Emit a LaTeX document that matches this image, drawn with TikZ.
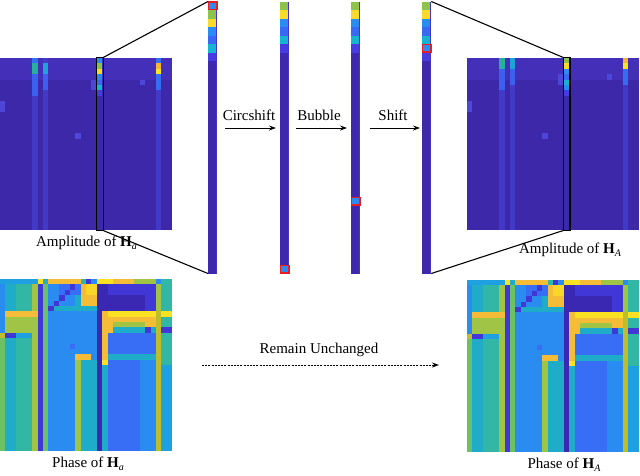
\documentclass[tikz,border=0pt]{standalone}
\usepackage{fontspec}
\setmainfont{Liberation Serif}
\usetikzlibrary{arrows.meta}
% amplitude colours
\definecolor{ampbg}{RGB}{62,40,170}
\definecolor{ampbgl}{RGB}{67,47,184}
\definecolor{ampstripe}{RGB}{66,58,198}
\definecolor{ampblueA}{RGB}{55,110,240}
\definecolor{ampteal}{RGB}{40,175,160}
\definecolor{ampblueB}{RGB}{60,95,238}
\definecolor{ampcyan}{RGB}{30,165,215}
\definecolor{amporange}{RGB}{245,180,55}
\definecolor{ampyellow}{RGB}{250,228,30}
\definecolor{ampfaint}{RGB}{78,70,215}
% column colours
\definecolor{cgreen}{RGB}{140,195,75}
\definecolor{cyellow}{RGB}{250,220,40}
\definecolor{cblue}{RGB}{40,140,240}
\definecolor{cblueB}{RGB}{55,105,245}
\definecolor{ccyan}{RGB}{20,180,210}
\definecolor{cindigo}{RGB}{70,60,225}
\definecolor{cdark}{RGB}{62,40,172}
\definecolor{redbox}{RGB}{230,30,35}
% phase colours
\definecolor{pblue}{RGB}{42,140,240}
\definecolor{pcyan}{RGB}{30,172,200}
\definecolor{pteal}{RGB}{50,182,165}
\definecolor{pgreen}{RGB}{110,192,100}
\definecolor{pygreen}{RGB}{160,196,70}
\definecolor{pyellow}{RGB}{250,226,35}
\definecolor{porange}{RGB}{245,188,55}
\definecolor{pindigo}{RGB}{65,55,215}
\definecolor{pdark}{RGB}{58,40,178}
\definecolor{pblueB}{RGB}{55,110,245}
\definecolor{psky}{RGB}{30,160,225}
\definecolor{polive}{RGB}{190,190,45}

\newcommand\subit[1]{\raisebox{-0.45ex}{\fontsize{10}{10}\selectfont\textit{#1}}}

\newcommand\ampmat[1]{%
 \fill[ampbg] (0,0) rectangle (32,32);
 \fill[ampbgl] (0,0) rectangle (32,4);
 \fill[ampstripe] (6,0) rectangle (7,32);
 \fill[ampstripe] (8,0) rectangle (9,32);
 \fill[ampstripe] (29,0) rectangle (30,32);
 \fill[ampblueA] (6,#1) rectangle (7,#1+1);
 \fill[ampteal] (6,#1+1) rectangle (7,#1+3);
 \fill[ampblueB] (6,#1+3) rectangle (7,#1+7);
 \fill[ampcyan] (8,#1+1) rectangle (9,#1+3);
 \fill[ampblueB] (8,#1+3) rectangle (9,#1+6);
 \fill[ampblueA] (29,#1) rectangle (30,#1+1);
 \fill[amporange] (29,#1+1) rectangle (30,#1+2);
 \fill[ampyellow] (29,#1+2) rectangle (30,#1+3);
 \fill[ampblueA] (29,#1+3) rectangle (30,#1+6);
 \fill[ampfaint] (17,#1+4) rectangle (18,#1+6);
 \fill[ampfaint] (26,#1+4) rectangle (27,#1+5);
 \fill[ampfaint] (14,14) rectangle (15,15);
 \fill[ampfaint] (0,8) rectangle (1,10);
}

\newcommand\phasemat{%
 \fill[pblue] (0,0) rectangle (32,32);
 % left region
 \fill[pcyan] (0,1) rectangle (7,32);
 \fill[pteal] (3,1) rectangle (6,32);
 \fill[pygreen] (6,1) rectangle (7,32);
 \fill[psky] (0,0) rectangle (7,1);
 \fill[pblue] (0,1) rectangle (1,10);
 \fill[porange] (1,6) rectangle (7,7);
 \fill[pygreen] (1,7) rectangle (7,10);
 \fill[polive] (0,10) rectangle (1,11);
 \fill[pgreen] (0,11) rectangle (1,32);
 \fill[pindigo] (1,10) rectangle (3,11);
 \fill[psky] (3,10) rectangle (6,11);
 % col 7, 8
 \fill[pindigo] (7,1) rectangle (8,32);
 \fill[pyellow] (7,0) rectangle (8,1);
 \fill[pgreen] (8,1) rectangle (9,32);
 \fill[pcyan] (8,0) rectangle (9,1);
 % cols 9-17
 \fill[porange] (9,0) rectangle (15,1);
 \fill[pteal] (15,0) rectangle (16,1);
 \fill[pindigo] (16,0) rectangle (17,1);
 \fill[pblueB] (11,1) rectangle (15,3);
 \foreach \i in {0,...,4} \fill[pindigo] (13-\i,1+\i) rectangle ++(1,1);
 \fill[porange] (15,1) rectangle (18,5);
 \fill[pyellow!70!porange] (16,1) rectangle (18,3);
 \fill[pcyan] (14,3) rectangle (15,5);
 \fill[pcyan] (10,5) rectangle (18,6);
 \fill[pblueB] (13,12) rectangle (14,13);
 \fill[pygreen] (14,14) rectangle (15,32);
 \fill[porange] (14,14) rectangle (17,15);
 \fill[pcyan] (15,15) rectangle (18,32);
 % col 18, 19
 \fill[pdark] (18,1) rectangle (19,32);
 \fill[pyellow] (18,0) rectangle (19,1);
 \fill[pyellow] (19,0) rectangle (20,1);
 \fill[pdark] (19,1) rectangle (20,6);
 \fill[porange] (19,6) rectangle (20,15);
 \fill[pyellow] (19,15) rectangle (20,16);
 \fill[pcyan] (19,16) rectangle (20,32);
 % cols 20-28
 \fill[porange] (20,0) rectangle (25,1);
 \fill[pyellow] (20,0) rectangle (21,1);
 \fill[pygreen] (25,0) rectangle (29,1);
 \fill[pindigo] (20,1) rectangle (29,6);
 \fill[pdark] (20,3) rectangle (27,6);
 \fill[pyellow] (20,6) rectangle (29,7);
 \fill[porange] (20,7) rectangle (29,8);
 \fill[pygreen] (21,8) rectangle (27,9);
 \fill[porange] (20,8) rectangle (21,10);
 \fill[porange] (27,8) rectangle (29,9);
 \fill[pcyan] (21,9) rectangle (29,10);
 \fill[pindigo] (27,9) rectangle (28,10);
 \fill[pblueB] (20,10) rectangle (29,14);
 \fill[pcyan] (20,14) rectangle (29,15);
 \fill[pblueB] (20,15) rectangle (29,32);
 \fill[pblue] (26,15) rectangle (29,32);
 % col 29-31
 \fill[pblue] (29,0) rectangle (30,1);
 \fill[polive] (29,1) rectangle (30,32);
 \fill[pygreen] (29,1) rectangle (30,6);
 \fill[pteal] (30,0) rectangle (32,16);
 \fill[pyellow] (30,6) rectangle (32,7);
 \fill[pindigo] (30,9) rectangle (32,10);
 \fill[psky] (30,16) rectangle (32,32);
}

% zoomed column: #1 x position, #2 colours of the top cells
\newcommand\zcol[2]{%
 \begin{scope}[xshift=#1pt,yshift=-1.5pt,x=9.3pt,y=-8.5pt]
  \fill[cdark] (0,0) rectangle (1,32);
  \foreach \c [count=\r from 0] in {#2} {\fill[\c] (0,\r) rectangle ++(1,1);}
  \fill[cindigo!60!cdark] (0.88,0) rectangle (1,32);
 \end{scope}}

\begin{document}
\begin{tikzpicture}[x=1pt,y=-1pt,
  lbl/.style={font=\fontsize{15}{18}\selectfont, inner sep=0pt},
  hlbox/.style={draw=black, line width=1.3pt, inner sep=0pt, outer sep=0pt,
                minimum width=6.6pt, minimum height=173pt},
  colnode/.style={inner sep=0pt, outer sep=0pt, minimum width=9.3pt, minimum height=272pt},
  link/.style={line width=1.1pt},
  arr/.style={line width=1pt, -{Stealth[length=7pt,width=5pt]}},
  darr/.style={line width=1pt, dash pattern=on 2pt off 1.2pt, -{Stealth[length=7pt,width=5pt]}},
  rbox/.style={draw=redbox, line width=1.3pt}]
\fill[white] (0,0) rectangle (640,475);
\useasboundingbox (0,0) rectangle (640,475);

% amplitude matrices
\begin{scope}[yshift=-58pt,x=5.375pt,y=-5.375pt]
 \ampmat{0}
 \foreach \c [count=\r from 0] in {cblue,cgreen,cyellow,cblue,cblueB,ccyan,cindigo}
   {\fill[\c] (18,\r) rectangle ++(1,1);}
\end{scope}
\begin{scope}[xshift=467pt,yshift=-58pt,x=5.375pt,y=-5.375pt]
 \clip (0,0) rectangle (32,32);
 \ampmat{-1}
 \foreach \c [count=\r from 0] in {cgreen,cyellow,cblue,cblueB,ccyan,cblue,cindigo}
   {\fill[\c] (18,\r) rectangle ++(1,1);}
\end{scope}

% phase matrices
\begin{scope}[yshift=-279pt,x=5.375pt,y=-5.375pt]
 \phasemat
\end{scope}
\begin{scope}[xshift=467pt,yshift=-280pt,x=5.375pt,y=-5.375pt]
 \phasemat
\end{scope}

% zoomed columns
\zcol{208}{cblue,cgreen,cyellow,cblue,cblueB,ccyan,cindigo}
\zcol{280}{cgreen,cyellow,cblue,cblueB,ccyan,cindigo}
\zcol{351}{cgreen,cyellow,cblue,cblueB,ccyan,cindigo}
\zcol{422}{cgreen,cyellow,cblue,cblueB,ccyan,cblue,cindigo}
\begin{scope}[xshift=280pt,yshift=-1.5pt,x=9.3pt,y=-8.5pt]
 \fill[cblue] (0,31) rectangle (1,32);
\end{scope}
\begin{scope}[xshift=351pt,yshift=-1.5pt,x=9.3pt,y=-8.5pt]
 \fill[cblue] (0,23) rectangle (1,24);
\end{scope}

\node[colnode] (c1) at (212.65,137.5) {};
\node[colnode] (c2) at (284.65,137.5) {};
\node[colnode] (c3) at (355.65,137.5) {};
\node[colnode] (c4) at (426.65,137.5) {};

% red boxes
\begin{scope}[yshift=-1.5pt,y=-8.5pt]
 \draw[rbox] (208.6,0.07) rectangle (216.9,0.97);
 \draw[rbox] (280.6,31.03) rectangle (288.9,31.93);
 \draw[rbox] (351.6,23.05) rectangle (359.9,23.95);
 \draw[rbox] (422.6,5.05) rectangle (430.9,5.95);
\end{scope}

% highlight boxes
\node[hlbox] (hlL) at (99.9,144) {};
\node[hlbox] (hlR) at (566.6,144) {};

\draw[link] (hlL.north east) -- (c1.north west);
\draw[link] (hlL.south east) -- (c1.south west);
\draw[link] (c4.north east) -- (hlR.north west);
\draw[link] (c4.south east) -- (hlR.south west);

% arrows
\coordinate (a1s) at (225,128); \coordinate (a1e) at (276,128);
\coordinate (a2s) at (296,128); \coordinate (a2e) at (347,128);
\coordinate (a3s) at (370,128); \coordinate (a3e) at (420,128);
\draw[arr] (a1s) -- (a1e);
\draw[arr] (a2s) -- (a2e);
\draw[arr] (a3s) -- (a3e);
\node[lbl] (t1) at (249,115) {Circshift};
\node[lbl] (t2) at (319,115) {Bubble};
\node[lbl] (t3) at (393,115) {Shift};

\coordinate (ds) at (202,365); \coordinate (de) at (439,365);
\draw[darr] (ds) -- (de);
\node[lbl] (tr) at (319,350) {Remain Unchanged};

% labels
\node[lbl] (la) at (86.5,243) {Amplitude of\ \textbf{H}\subit{a}};
\node[lbl] (lA) at (570,250) {Amplitude of\ \textbf{H}\subit{A}};
\node[lbl] (pa) at (88,464) {Phase of\ \textbf{H}\subit{a}};
\node[lbl] (pA) at (564,465) {Phase of\ \textbf{H}\subit{A}};
\end{tikzpicture}
\end{document}
